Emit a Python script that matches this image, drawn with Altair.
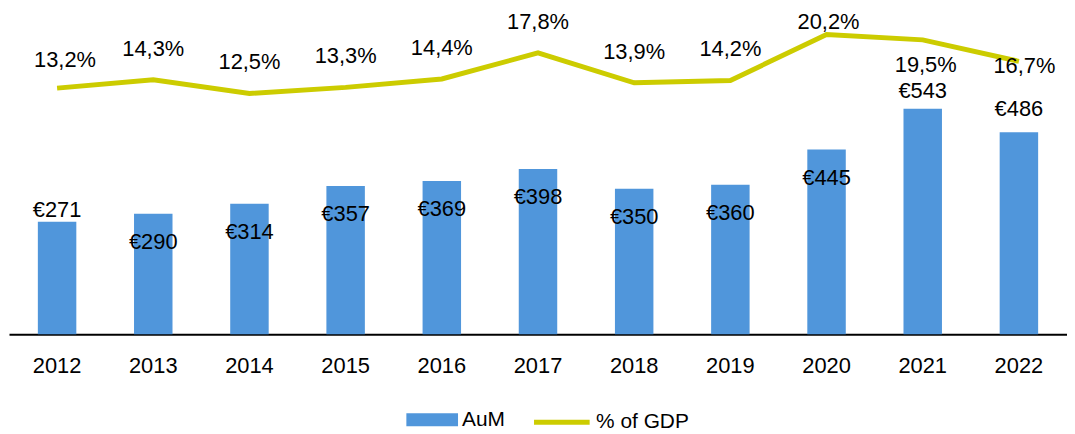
import altair as alt
import pandas as pd

# ---- data ----
years = [2012, 2013, 2014, 2015, 2016, 2017, 2018, 2019, 2020, 2021, 2022]
aum = [271, 290, 314, 357, 369, 398, 350, 360, 445, 543, 486]
pct_gdp = [13.2, 14.3, 12.5, 13.3, 14.4, 17.8, 13.9, 14.2, 20.2, 19.5, 16.7]

# ---- styling ----
FONT = "Liberation Sans"
BAR_COLOR = "#5096DB"
LINE_COLOR = "#CCCC00"
FS = 22
LEG_FS = 21

# label placement styles (dx, dy) per year; default otherwise
BAR_LABEL_DEFAULT = (0, 28.5)
BAR_LABEL_STYLE = {2012: (0, -11.5), 2021: (0, -18), 2022: (0, -23.5)}
PCT_LABEL_DEFAULT = (0, -31.3)
PCT_LABEL_STYLE = {2012: (8, -28.6), 2020: (2, -12.8), 2021: (3, 25), 2022: (5.5, 5)}

df = pd.DataFrame({"year": years, "aum": aum, "pct": pct_gdp})

x_enc = alt.X(
    "year:O",
    scale=alt.Scale(paddingInner=0.6, paddingOuter=0.3),
    axis=alt.Axis(
        title=None, labelAngle=0, ticks=False, tickSize=0, labelPadding=22,
        labelFontSize=FS, labelFont=FONT, labelColor="#000000",
        domainColor="#000000", domainWidth=2, grid=False,
    ),
)

y_bar = alt.Y("aum:Q", scale=alt.Scale(domain=[0, 782], nice=False, zero=True), axis=None)
y_line = alt.Y("pct:Q", scale=alt.Scale(domain=[-18.93, 23.48], nice=False, zero=False), axis=None)

base = alt.Chart(df).transform_calculate(
    aum_label="'€' + datum.aum",
    pct_label="replace(format(datum.pct, '.1f'), '.', ',')  + '%'",
    s_bar="'AuM'",
    s_line="'% of GDP'",
)

bars = base.mark_bar(color=BAR_COLOR).encode(
    x=x_enc,
    y=y_bar,
    color=alt.Color(
        "s_bar:N",
        scale=alt.Scale(domain=["AuM"], range=[BAR_COLOR]),
        legend=alt.Legend(
            title=None, orient="none", legendX=400, legendY=387, padding=0,
            symbolType="M-1,-0.25L1,-0.25L1,0.25L-1,0.25Z", symbolSize=2704,
            symbolStrokeWidth=0, labelFont=FONT, labelFontSize=LEG_FS,
            labelColor="#000000", labelOffset=4,
        ),
    ),
)

special_bar_years = list(BAR_LABEL_STYLE.keys())
bar_text_layers = [
    base.transform_filter(f"indexof({special_bar_years}, datum.year) < 0").mark_text(
        font=FONT, fontSize=FS, color="#000000", baseline="middle",
        dx=BAR_LABEL_DEFAULT[0], dy=BAR_LABEL_DEFAULT[1],
    ).encode(x=x_enc, y=y_bar, text="aum_label:N")
]
for yr, (dx, dy) in BAR_LABEL_STYLE.items():
    bar_text_layers.append(
        base.transform_filter(f"datum.year == {yr}").mark_text(
            font=FONT, fontSize=FS, color="#000000", baseline="middle", dx=dx, dy=dy,
        ).encode(x=x_enc, y=y_bar, text="aum_label:N")
    )

line = base.mark_line(strokeWidth=5, strokeJoin="miter").encode(
    x=x_enc,
    y=y_line,
    stroke=alt.Stroke(
        "s_line:N",
        scale=alt.Scale(domain=["% of GDP"], range=[LINE_COLOR]),
        legend=alt.Legend(
            title=None, orient="none", legendX=526, legendY=385, padding=0,
            symbolType="stroke", symbolSize=3136, symbolStrokeWidth=5,
            labelFont=FONT, labelFontSize=LEG_FS, labelColor="#000000", labelOffset=4,
        ),
    ),
)

special_pct_years = list(PCT_LABEL_STYLE.keys())
pct_text_layers = [
    base.transform_filter(f"indexof({special_pct_years}, datum.year) < 0").mark_text(
        font=FONT, fontSize=FS, color="#000000", baseline="middle",
        dx=PCT_LABEL_DEFAULT[0], dy=PCT_LABEL_DEFAULT[1],
    ).encode(x=x_enc, y=y_line, text="pct_label:N")
]
for yr, (dx, dy) in PCT_LABEL_STYLE.items():
    pct_text_layers.append(
        base.transform_filter(f"datum.year == {yr}").mark_text(
            font=FONT, fontSize=FS, color="#000000", baseline="middle", dx=dx, dy=dy,
        ).encode(x=x_enc, y=y_line, text="pct_label:N")
    )

bar_layer = alt.layer(bars, *bar_text_layers)
line_layer = alt.layer(line, *pct_text_layers)

chart = (
    alt.layer(bar_layer, line_layer)
    .resolve_scale(y="independent")
    .properties(
        width=1065, height=327,
        autosize=alt.AutoSizeParams(type="none"),
        padding={"left": 1, "top": 0, "right": 0, "bottom": 96},
        background="white",
    )
    .configure_view(stroke=None)
)

chart.save("out.html", embed_options={"renderer": "svg", "actions": False})
